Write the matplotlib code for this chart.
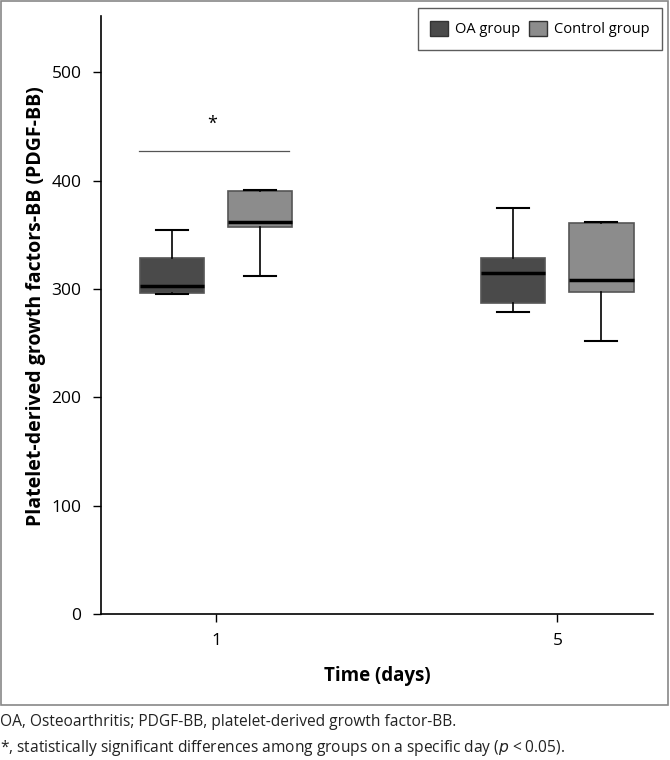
import matplotlib.pyplot as plt
from matplotlib.patches import Rectangle, Patch

plt.rcParams['font.family'] = ['Open Sans', 'DejaVu Sans']

# data (PDGF-BB)
days = ['1', '5']
groups = ['OA group', 'Control group']
oa_lo = [295, 279]
oa_q1 = [296, 287]
oa_med = [303, 315]
oa_q3 = [329, 329]
oa_hi = [354, 375]
ctl_lo = [312, 252]
ctl_q1 = [357, 297]
ctl_med = [362, 308]
ctl_q3 = [390, 361]
ctl_hi = [391, 362]
sig_y = 427

colors = ['#4a4a4a', '#8c8c8c']

fig = plt.figure(figsize=(6.7, 7.6), dpi=100)
ax = fig.add_axes([0.1507, 0.1921, 0.8239, 0.7869])

def stats(lo, q1, med, q3, hi):
    return [dict(whislo=a, q1=b, med=c, q3=d, whishi=e, fliers=[])
            for a, b, c, d, e in zip(lo, q1, med, q3, hi)]

off = 0.129
w = 0.188
for k, (st, col) in enumerate([(stats(oa_lo, oa_q1, oa_med, oa_q3, oa_hi), colors[0]),
                               (stats(ctl_lo, ctl_q1, ctl_med, ctl_q3, ctl_hi), colors[1])]):
    pos = [i + (-off if k == 0 else off) for i in range(len(days))]
    ax.bxp(st, positions=pos, widths=w, patch_artist=True, showfliers=False,
           boxprops=dict(facecolor=col, edgecolor='#555555', linewidth=1.2),
           medianprops=dict(color='black', linewidth=2.5),
           whiskerprops=dict(color='black', linewidth=1.2),
           capprops=dict(color='black', linewidth=1.5),
           capwidths=w / 2)

# significance bar on day 1
ax.plot([-0.226, 0.214], [sig_y, sig_y], color='#555555', lw=0.9)
ax.text(-0.01, sig_y + 17, '*', ha='center', va='bottom', fontsize=13)

ax.set_xlim(-0.337, 1.28)
ax.set_ylim(0, 552)
ax.set_xticks(range(len(days)))
ax.set_xticklabels(days)
ax.set_yticks([0, 100, 200, 300, 400, 500])
for s in ['top', 'right']:
    ax.spines[s].set_visible(False)
ax.spines['left'].set_linewidth(1.2)
ax.spines['bottom'].set_linewidth(1.2)
ax.tick_params(labelsize=12.5, length=6, width=1, pad=8)
ax.set_ylabel('Platelet-derived growth factors-BB (PDGF-BB)', fontsize=14,
              fontweight='bold')
ax.yaxis.set_label_coords(-0.10, 0.515)
ax.set_xlabel('Time (days)', fontsize=13.5, fontweight='bold', labelpad=12)

handles = [Patch(facecolor=c, edgecolor='#333333') for c in colors]
leg = ax.legend(handles, groups, loc='upper right', bbox_to_anchor=(1.016, 1.013),
                borderaxespad=0, ncol=2, fontsize=10.5, frameon=True, fancybox=False,
                handlelength=1.2, handleheight=1.3, columnspacing=0.6,
                handletextpad=0.5, borderpad=0.85)
leg.get_frame().set_edgecolor('#333333')
leg.get_frame().set_linewidth(1)

# outer frame around the plot area
fig.add_artist(Rectangle((0.0015, 1 - 705 / 760), 0.996, 704 / 760,
                         transform=fig.transFigure, fill=False,
                         edgecolor='#888888', lw=1.2))

fig.text(0.0, 1 - 722 / 760, 'OA, Osteoarthritis; PDGF-BB, platelet-derived growth factor-BB.',
         fontsize=11.2, va='center', color='#222222')
fig.text(0.0, 1 - 748 / 760,
         '*, statistically significant differences among groups on a specific day ($\\it{p}$ < 0.05).',
         fontsize=11.2, va='center', color='#222222')

fig.savefig('out.png', dpi=100)
